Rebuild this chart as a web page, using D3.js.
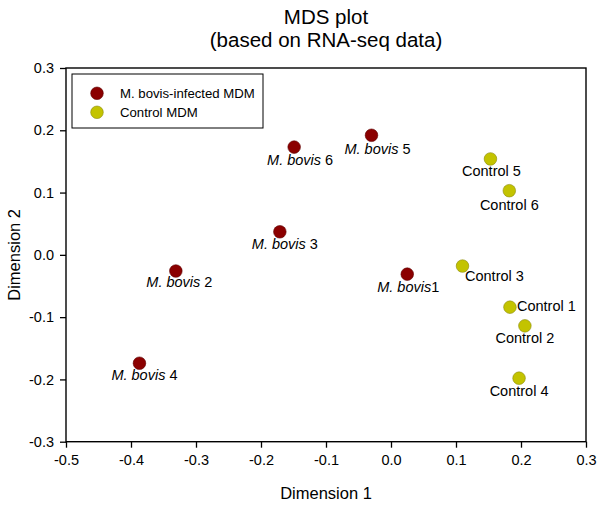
<!DOCTYPE html>
<html>
<head>
<meta charset="utf-8">
<script src="https://cdn.jsdelivr.net/npm/d3@7"></script>
<style>
  html, body { margin: 0; padding: 0; background: #fff; }
  text { font-family: "Liberation Sans", Arial, sans-serif; fill: #000; }
</style>
</head>
<body>
<svg id="chart" width="600" height="505"></svg>
<script>
// ---- Data ----
const infectedLabels = ["M. bovis1", "M. bovis 2", "M. bovis 3", "M. bovis 4", "M. bovis 5", "M. bovis 6"];
const infectedX = [0.025, -0.331, -0.171, -0.387, -0.030, -0.149];
const infectedY = [-0.031, -0.026, 0.037, -0.174, 0.192, 0.173];

const controlLabels = ["Control 1", "Control 2", "Control 3", "Control 4", "Control 5", "Control 6"];
const controlX = [0.183, 0.206, 0.110, 0.197, 0.153, 0.182];
const controlY = [-0.084, -0.114, -0.018, -0.198, 0.154, 0.103];

const seriesNames = ["M. bovis-infected MDM", "Control MDM"];
const xTicks = [-0.5, -0.4, -0.3, -0.2, -0.1, 0.0, 0.1, 0.2, 0.3];
const yTicks = [-0.3, -0.2, -0.1, 0.0, 0.1, 0.2, 0.3];

// ---- Label placement (layout only) ----
const labelPlacement = {
  "M. bovis1":  {anchor: "middle", dx: 1,  dy: 18},
  "M. bovis 2": {anchor: "middle", dx: 3.5, dy: 16},
  "M. bovis 3": {anchor: "middle", dx: 5,  dy: 17},
  "M. bovis 4": {anchor: "middle", dx: 5,  dy: 17},
  "M. bovis 5": {anchor: "middle", dx: 6,  dy: 19},
  "M. bovis 6": {anchor: "middle", dx: 6,  dy: 18},
  "Control 1":  {anchor: "start",  dx: 7,  dy: 3.5},
  "Control 2":  {anchor: "middle", dx: 0,  dy: 17},
  "Control 3":  {anchor: "start",  dx: 2.5, dy: 15},
  "Control 4":  {anchor: "middle", dx: 0,  dy: 18},
  "Control 5":  {anchor: "middle", dx: 1,  dy: 17},
  "Control 6":  {anchor: "middle", dx: 0,  dy: 19}
};

const colors = ["#8b0000", "#c3c300"];
const strokes = ["#5e0000", "#8c8c10"];

// ---- Layout ----
const svg = d3.select("#chart");
const pLeft = 66, pRight = 586, pTop = 68, pBottom = 441.7;

const x = d3.scaleLinear().domain([-0.5, 0.3]).range([pLeft, pRight]);
const y = d3.scaleLinear().domain([-0.3, 0.3]).range([pBottom, pTop]);

// Title
svg.append("text").attr("x", (pLeft + pRight) / 2).attr("y", 24)
  .attr("text-anchor", "middle").style("font-size", "20.5px").text("MDS plot");
svg.append("text").attr("x", (pLeft + pRight) / 2).attr("y", 47)
  .attr("text-anchor", "middle").style("font-size", "20.5px").text("(based on RNA-seq data)");

// Axes
const fmt = d => d3.format(".1f")(d).replace("\u2212", "-");
const xAxis = d3.axisBottom(x).tickValues(xTicks).tickSize(6).tickPadding(7).tickFormat(fmt);
const yAxis = d3.axisLeft(y).tickValues(yTicks).tickSize(6).tickPadding(6).tickFormat(fmt);

const gx = svg.append("g").attr("transform", `translate(0,${pBottom})`).call(xAxis);
const gy = svg.append("g").attr("transform", `translate(${pLeft},0)`).call(yAxis);
[gx, gy].forEach(g => {
  g.select(".domain").remove();
  g.selectAll(".tick line").attr("stroke", "#000").attr("stroke-width", 1.3);
  g.selectAll(".tick text").style("font-size", "14.5px")
    .style("font-family", "'Liberation Sans', Arial, sans-serif").attr("fill", "#000");
});

// Frame
svg.append("rect").attr("x", pLeft).attr("y", pTop)
  .attr("width", pRight - pLeft).attr("height", pBottom - pTop)
  .attr("fill", "none").attr("stroke", "#000").attr("stroke-width", 1.4);

// Axis titles
svg.append("text").attr("x", (pLeft + pRight) / 2).attr("y", 499)
  .attr("text-anchor", "middle").style("font-size", "16.5px").text("Dimension 1");
svg.append("text")
  .attr("transform", `translate(20,${(pTop + pBottom) / 2}) rotate(-90)`)
  .attr("text-anchor", "middle").style("font-size", "16.5px").text("Dimension 2");

// Points
const groups = [
  {labels: infectedLabels, xs: infectedX, ys: infectedY, i: 0},
  {labels: controlLabels, xs: controlX, ys: controlY, i: 1}
];

groups.forEach(g => {
  const pts = g.labels.map((l, k) => ({label: l, x: g.xs[k], y: g.ys[k]}));
  svg.append("g").selectAll("circle").data(pts).join("circle")
    .attr("cx", d => x(d.x)).attr("cy", d => y(d.y)).attr("r", 6.3)
    .attr("fill", colors[g.i]).attr("stroke", strokes[g.i]).attr("stroke-width", 0.6);

  const labs = svg.append("g").selectAll("text").data(pts).join("text")
    .attr("x", d => x(d.x) + labelPlacement[d.label].dx)
    .attr("y", d => y(d.y) + labelPlacement[d.label].dy)
    .attr("text-anchor", d => labelPlacement[d.label].anchor)
    .style("font-size", "14.5px");
  labs.each(function(d) {
    const t = d3.select(this);
    const m = d.label.match(/^(M\. bovis)(.*)$/);
    if (m) {
      t.append("tspan").style("font-style", "italic").text(m[1]);
      t.append("tspan").text(m[2]);
    } else {
      t.text(d.label);
    }
  });
});

// Legend
svg.append("rect").attr("x", 72).attr("y", 74).attr("width", 191).attr("height", 54)
  .attr("fill", "#fff").attr("stroke", "#000").attr("stroke-width", 1);
seriesNames.forEach((name, i) => {
  const ly = 93.3 + i * 19;
  svg.append("circle").attr("cx", 97).attr("cy", ly).attr("r", 6.3)
    .attr("fill", colors[i]).attr("stroke", strokes[i]).attr("stroke-width", 0.6);
  svg.append("text").attr("x", 120).attr("y", ly).attr("dy", "0.36em")
    .style("font-size", "13.2px").text(name);
});
</script>
</body>
</html>
